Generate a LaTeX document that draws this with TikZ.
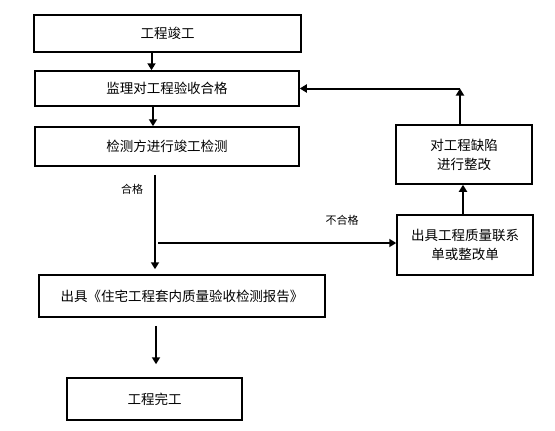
\documentclass[tikz,border=0pt]{standalone}
\usepackage{fontspec}
\setmainfont{Noto Sans CJK SC}
\usepackage{tikz}
\usetikzlibrary{arrows.meta, calc}
\tikzset{
	>={Triangle[width=8pt,length=7pt]},
	every node/.style={font=\fontsize{13.5}{19}\selectfont},
	box/.style={draw, line width=1.5pt, inner sep=0pt, align=center},
	flow/.style={->, line width=2pt},
	cond/.style={font=\fontsize{11}{13}\selectfont},
}

\begin{document}
\begin{tikzpicture}[x=1pt, y=-1pt]
			\useasboundingbox (0,0) rectangle (555,431);
			\node[box, minimum width=267pt, minimum height=37pt] (DONE) at (167.5,33.5) {工程竣工};
			\node[box, minimum width=264pt, minimum height=35pt] (SUPERVISE) at (167,88.5) {监理对工程验收合格};
			\node[box, minimum width=264pt, minimum height=39pt] (TEST) at (167,146.5) {检测方进行竣工检测};
			\node[box, minimum width=286pt, minimum height=42pt] (REPORT) at (182,296) {出具《住宅工程套内质量验收检测报告》};
			\node[box, minimum width=175pt, minimum height=42pt] (FINISH) at (154.5,399) {工程完工};
			\node[box, minimum width=136pt, minimum height=59pt] (REPAIR) at (464,154.5) {对工程缺陷\\进行整改};
			\node[box, minimum width=136pt, minimum height=60pt] (NOTICE) at (465,245) {出具工程质量联系\\单或整改单};
			\coordinate (CORNER) at (460,88.5);
			\coordinate (BRANCH) at (155,243);
			
			\draw[flow] ([xshift=-16pt]DONE.south) -- ([xshift=-16pt]DONE.south |- SUPERVISE.north);
			\draw[flow] ([xshift=-14pt]SUPERVISE.south) -- ([xshift=-14pt]SUPERVISE.south |- TEST.north);
			\draw[flow, shorten <=8pt, shorten >=5pt] ([xshift=-12pt]TEST.south) -- ([xshift=-12pt]TEST.south |- REPORT.north);
			\node[cond] (PASS) at (132,189) {合格};
			\draw[flow, shorten <=3pt] (BRANCH) -- (NOTICE.west |- BRANCH);
			\node[cond] (FAIL) at (342,220) {不合格};
			\draw[flow] ([xshift=-2pt]NOTICE.north) -- ([xshift=-2pt]NOTICE.north |- REPAIR.south);
			\draw[flow] (REPAIR.north -| CORNER) -- (CORNER);
			\draw[flow] (CORNER) -- (SUPERVISE.east);
			\draw[flow, shorten <=8pt, shorten >=13pt] ([xshift=-26pt]REPORT.south) -- ([xshift=-26pt]REPORT.south |- FINISH.north);
		\end{tikzpicture}
\end{document}
